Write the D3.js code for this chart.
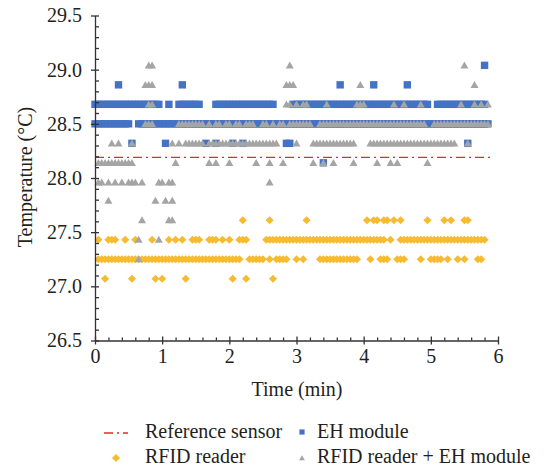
<!DOCTYPE html>
<meta charset="utf-8">
<title>Temperature readings</title>
<style>
  body { margin: 0; background: #fff; }
  text { font-family: "Liberation Serif", "Times New Roman", serif; fill: #231f20; }
</style>
<body>
<script src="https://cdn.jsdelivr.net/npm/d3@7"></script>
<script>

// one reading slot every 0.05 min; masks hold 12 groups of 10 slots (0.5 min each)
// '#' = a reading at that level in that slot
const slotMin = 0.05;

const refTimes = [0, 5.9];
const refValues = [28.19, 28.19];

const ehLevels = [29.04, 28.86, 28.68, 28.50, 28.32, 28.14];
const ehMasks = [
  ".......... .......... .......... .......... .......... .......... .......... .......... .......... .......... .......... ......#...",
  ".......#.. .......... ......#... .......... .......... .......... .......... ...#...... ...#...... ...#...... .......... ..........",
  "########## ########## ..#..##### ##....#### ########## ####.....# ########## ########## ########## ########## ..######## #######...",
  "########## #..####### ########## ########## ########## ########## ########## ########## ########## ########## ########## ########..",
  ".......... .#........ .#........ ...#..#... .#..#..... .......##. .......... .......... .......... .......... .......... .#........",
  ".......... .......... .......... .......... .......... .......... ........#. .......... .......... .......... .......... .........."
];

const rfidLevels = [27.61, 27.43, 27.25, 27.07];
const rfidMasks = [
  ".......... .......... .......... .......... ....#..... ..#....... ...#...... .......... .#.##.##.# .#.......# ....#.#... ##........",
  ".#..###..# ..#....#.. ..#.#.#..# ##..###.#. #..###.... .######### ########## ########## #######.#. .######### ########## #######...",
  ".######### ########## ########## ########## ####..#### #.#.####.. #.#....### #########. ..#..###.. ###....#.. ####.#..#. #...##....",
  "...#...... .#......#. #......#.. .......... .#...#.... ...#...... .......... .......... .......... .......... .......... .........."
];

const bothLevels = [29.04, 28.86, 28.68, 28.50, 28.32, 28.14, 27.96, 27.79, 27.61, 27.43, 27.25];
const bothMasks = [
  ".......... ......##.. .......... .......... .......... ........#. .......... .......... .......... .......... .......... #.........",
  ".......... .....###.. .......... .......... .......... .......### .......... .........# .......... .......... .......... ...#......",
  ".......... ......##.. .......... .......... .......... .......##. #.##.....# ........## #........# ..#....#.. .........# ...#.#.#..",
  ".......... .....###.. .....##### ###.#.##.# #.##.###.. ##.#.##.## #####..### ########## ########## #########. .######### ########..",
  ".....#.#.. .#........ ...#.#.### ###.###### ########## #####..... #....##### ########.. ..######## ########## ########.. .#........",
  ".######### ##........ ....#..... ....#.#... #.......#. ..#...#... .....#..#. .#.....#.. ....#...#. #........# .......... ..........",
  ".##.#.#.#. ###.#....# #.##...... .......... .......... ..#....... .......... .......... .......... .......... .......... ..........",
  "....#..... ........#. .#.#...... .......... .......... .......... .......... .......... .......... .......... .......... ..........",
  ".......... ....#..... ..##...... .......... .......... .......... .......... .......... .......... .......... .......... ..........",
  ".......... ...#.....# .......... .......... .......... .......... .......... .......... .......... .......... .......... ..........",
  ".......... ...#...... .......... .......... .......... .......... .......... .......... .......... .......... .......... .........."
];

const xTicks = [0, 1, 2, 3, 4, 5, 6];
const yTicks = [26.5, 27.0, 27.5, 28.0, 28.5, 29.0, 29.5];
const legendNames = ["Reference sensor", "EH module", "RFID reader", "RFID reader + EH module"];

const colors = { ref: "#e32a2c", eh: "#4472c4", rfid: "#f7bb2f", both: "#a5a5a5" };
const shapes = {
  square: "M-3.7,-3.7h7.4v7.4h-7.4Z",
  diamond: "M0,-4.1L4.1,0L0,4.1L-4.1,0Z",
  triangle: "M0,-3.9L4,3.1L-4,3.1Z"
};
const refDash = "9,4,2,4";

const svg = d3.select("body").append("svg")
    .attr("width", 555)
    .attr("height", 472);

const x = d3.scaleLinear().domain([0, 6]).range([95, 498]);
const y = d3.scaleLinear().domain([26.5, 29.5]).range([340.5, 15.5]);

const toPoints = (levels, masks) => levels.flatMap((v, k) =>
  masks[k].replace(/ /g, "").split("")
    .map((c, i) => c === "#" ? { t: i * slotMin, v: v } : null)
    .filter(Boolean));

// reference sensor line
svg.append("path")
    .datum(refTimes.map((t, i) => [t, refValues[i]]))
    .attr("d", d3.line().x(d => x(d[0])).y(d => y(d[1])))
    .attr("fill", "none")
    .attr("stroke", colors.ref)
    .attr("stroke-width", 1.3)
    .attr("stroke-dasharray", refDash);

const drawSeries = (pts, shape, color) => {
  svg.append("g").selectAll("path")
      .data(pts)
    .join("path")
      .attr("transform", d => `translate(${x(d.t)},${y(d.v)})`)
      .attr("d", shape)
      .attr("fill", color);
};

drawSeries(toPoints(ehLevels, ehMasks), shapes.square, colors.eh);
drawSeries(toPoints(rfidLevels, rfidMasks), shapes.diamond, colors.rfid);
drawSeries(toPoints(bothLevels, bothMasks), shapes.triangle, colors.both);

// axes
const axisColor = "#333";

const gy = svg.append("g").attr("transform", "translate(95,0)")
    .call(d3.axisLeft(y).tickValues(yTicks).tickSize(4).tickSizeOuter(0)
      .tickPadding(9).tickFormat(d3.format(".1f")));
gy.selectAll(".tick line").attr("x1", 4);
svg.append("g").attr("transform", "translate(95,0)")
    .call(d3.axisRight(y).tickValues(d3.range(26.6, 29.45, 0.1).filter(v => Math.abs(v * 2 - Math.round(v * 2)) > 0.01))
      .tickSize(4).tickSizeOuter(0).tickFormat(""))
    .call(g => g.select(".domain").remove());

const gx = svg.append("g").attr("transform", "translate(0,340.5)")
    .call(d3.axisBottom(x).tickValues(xTicks).tickSize(4).tickSizeOuter(0)
      .tickPadding(4).tickFormat(d3.format("d")));
gx.selectAll(".tick line").attr("y1", -4);
svg.append("g").attr("transform", "translate(0,340.5)")
    .call(d3.axisTop(x).tickValues(d3.range(0.2, 6, 0.2).filter(v => Math.abs(v - Math.round(v)) > 0.01))
      .tickSize(3).tickSizeOuter(0).tickFormat(""))
    .call(g => g.select(".domain").remove());

svg.selectAll(".domain, .tick line").attr("stroke", axisColor).attr("stroke-width", 1.3);
svg.selectAll(".tick text")
    .attr("font-size", 20)
    .attr("font-family", "Liberation Serif")
    .attr("fill", "#231f20");

svg.append("text")
    .attr("x", 297).attr("y", 396)
    .attr("text-anchor", "middle")
    .attr("font-size", 20)
    .text("Time (min)");

svg.append("text")
    .attr("transform", "translate(32,177) rotate(-90)")
    .attr("text-anchor", "middle")
    .attr("font-size", 20)
    .text("Temperature (°C)");

// legend
const legend = svg.append("g");
legend.append("line")
    .attr("x1", 104).attr("x2", 128).attr("y1", 433).attr("y2", 433)
    .attr("stroke", colors.ref).attr("stroke-width", 1.3)
    .attr("stroke-dasharray", refDash);
legend.append("path").attr("d", "M-2.6,-2.6h5.2v5.2h-5.2Z")
    .attr("transform", "translate(302,432)").attr("fill", colors.eh);
legend.append("path").attr("d", shapes.diamond)
    .attr("transform", "translate(116,458)").attr("fill", colors.rfid);
legend.append("path").attr("d", "M0,-2.8L2.9,2.2L-2.9,2.2Z")
    .attr("transform", "translate(302,458)").attr("fill", colors.both);

const legendPos = [[145, 438], [317, 438], [145, 463], [317, 463]];
legend.selectAll("text.lbl")
    .data(legendNames)
  .join("text")
    .attr("class", "lbl")
    .attr("x", (d, i) => legendPos[i][0])
    .attr("y", (d, i) => legendPos[i][1])
    .attr("font-size", 20)
    .text(d => d);

</script>
</body>
